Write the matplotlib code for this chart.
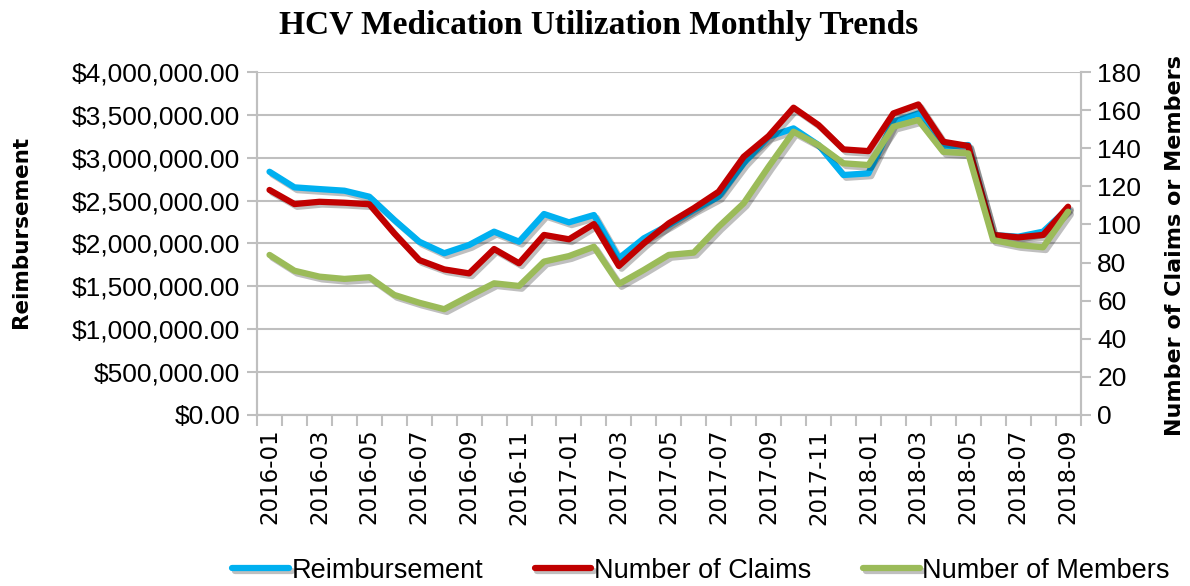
import numpy as np
import matplotlib
matplotlib.use('Agg')
import matplotlib.pyplot as plt
import matplotlib.patheffects as pe
from matplotlib.ticker import FuncFormatter, MultipleLocator, FixedLocator

plt.rcParams['font.family'] = ['Liberation Sans', 'DejaVu Sans']

months = ['2016-01', '2016-02', '2016-03', '2016-04', '2016-05', '2016-06', '2016-07', '2016-08',
          '2016-09', '2016-10', '2016-11', '2016-12', '2017-01', '2017-02', '2017-03', '2017-04',
          '2017-05', '2017-06', '2017-07', '2017-08', '2017-09', '2017-10', '2017-11', '2017-12',
          '2018-01', '2018-02', '2018-03', '2018-04', '2018-05', '2018-06', '2018-07', '2018-08',
          '2018-09']

reimbursement = [2837000, 2655000, 2635000, 2616000, 2546000, 2274000, 2021000, 1886000,
                 1983000, 2138000, 2021000, 2344000, 2247000, 2332000, 1827000, 2060000,
                 2216000, 2391000, 2546000, 2935000, 3245000, 3343000, 3149000, 2799000,
                 2818000, 3420000, 3518000, 3129000, 3149000, 2099000, 2079000, 2138000,
                 2410000]

claims = [118.1, 110.7, 111.9, 111.4, 110.6, 95.3, 81.3, 76.4,
          74.3, 87.1, 79.6, 94.5, 92.2, 100.2, 78.2, 90.1,
          100.6, 108.5, 117.2, 135.5, 146.4, 161.3, 152.2, 139.4,
          138.5, 158.3, 163.0, 143.4, 141.2, 94.5, 93.2, 94.5,
          109.3]

members = [84.0, 75.7, 72.6, 71.4, 72.3, 63.0, 58.9, 55.5,
           62.4, 69.1, 67.7, 80.5, 83.4, 88.3, 68.7, 76.1,
           84.0, 85.2, 98.8, 111.1, 130.3, 148.7, 141.7, 132.1,
           131.2, 151.3, 154.8, 138.1, 137.3, 91.8, 89.2, 88.0,
           106.7]

x = np.arange(len(months))
grid_c = '#BFBFBF'
shadow = [pe.SimpleLineShadow(offset=(2, -2), shadow_color='k', alpha=0.25), pe.Normal()]

fig = plt.figure(figsize=(11.9, 5.86), dpi=100)
ax = fig.add_axes([0.216, 0.292, 0.692, 0.585])
ax2 = ax.twinx()

l1, = ax.plot(x, reimbursement, color='#00B0F0', lw=4.5, solid_capstyle='round',
              path_effects=shadow, label='Reimbursement')
l2, = ax2.plot(x, claims, color='#C00000', lw=4.5, solid_capstyle='round',
               path_effects=shadow, label='Number of Claims')
l3, = ax2.plot(x, members, color='#9BBB59', lw=4.5, solid_capstyle='round',
               path_effects=shadow, label='Number of Members')

ax.set_xlim(-0.5, len(months) - 0.5)
ax.set_ylim(0, 4000000)
ax2.set_ylim(0, 180)

ax.yaxis.set_major_locator(MultipleLocator(500000))
ax.yaxis.set_major_formatter(FuncFormatter(lambda v, p: '${:,.2f}'.format(v)))
ax.grid(axis='y', color=grid_c, lw=1.5)
ax.set_axisbelow(True)

ax.set_xticks(x[::2])
ax.set_xticklabels(months[::2], rotation=90, family='DejaVu Sans', fontsize=16.5)
ax.xaxis.set_minor_locator(FixedLocator(np.arange(-0.5, len(months), 1)))
ax.tick_params(axis='x', which='major', length=0, pad=10)
ax.tick_params(axis='x', which='minor', length=8, width=1.5, color=grid_c)
ax.tick_params(axis='y', length=7, width=1.5, color=grid_c, labelsize=19, pad=5)

ax2.yaxis.set_major_locator(MultipleLocator(20))
ax2.tick_params(axis='y', length=7, width=1.5, color=grid_c, labelsize=19, pad=5)

for a in (ax, ax2):
    a.spines['top'].set_visible(False)
    for s in ('left', 'right', 'bottom'):
        a.spines[s].set_color(grid_c)
        a.spines[s].set_linewidth(1.5)

ax.set_ylabel('Reimbursement', fontsize=15.5, fontweight='bold', family='DejaVu Sans')
ax.yaxis.set_label_coords(-0.275, 0.533)
ax2.set_ylabel('Number of Claims or Members', fontsize=16, fontweight='bold', family='DejaVu Sans')
ax2.yaxis.set_label_coords(1.102, 0.495)

fig.text(0.503, 0.956, 'HCV Medication Utilization Monthly Trends', ha='center', va='center',
         fontsize=24, fontweight='bold', family='Liberation Serif')

fig.legend(handles=[l1, l2, l3], loc='center', bbox_to_anchor=(0.589, 0.026), ncol=3,
           frameon=False, fontsize=19.5, handlelength=2.1, handletextpad=0.1, columnspacing=1.9)

fig.savefig('out.png', dpi=100)
